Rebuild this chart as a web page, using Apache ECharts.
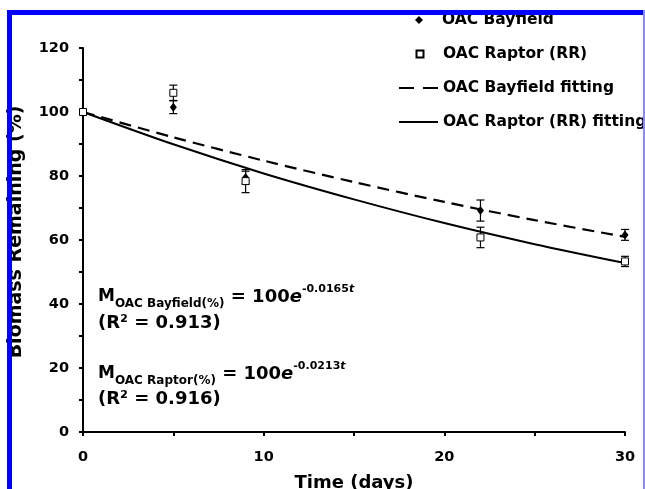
<!DOCTYPE html>
<html>
<head>
<meta charset="utf-8">
<script src="https://cdn.jsdelivr.net/npm/echarts@6/dist/echarts.min.js"></script>
<style>
  html, body { margin: 0; padding: 0; background: #fff; }
  #main { width: 645px; height: 489px; }
</style>
</head>
<body>
<div id="main"></div>
<script>
// measured points (days, % remaining) and error half-widths
const days = [0, 5, 9, 22, 30];
const bayfield = [100, 101.5, 79.5, 69.2, 61.6];
const bayfieldErr = [0, 2, 2, 3.3, 1.7];
const raptor = [100, 106, 78.4, 60.8, 53.3];
const raptorErr = [0, 2.4, 3.6, 3.2, 1.6];

// fitted curves
const fitDays = [0, 5, 10, 15, 20, 25, 30];
const bayfieldFit = [100, 92.1, 84.8, 78.1, 71.9, 66.2, 61.0];
const raptorFit = [100, 89.9, 80.8, 72.7, 65.3, 58.7, 52.8];

const FONT = 'DejaVu Sans';
const bold = { color: '#000', fontFamily: FONT, fontWeight: 'bold' };

function pairs(xs, ys) {
  return xs.map((x, i) => [x, ys[i]]);
}
function errRows(vals, errs) {
  return days.map((d, i) => [d, vals[i] - errs[i], vals[i] + errs[i]]).filter((r, i) => errs[i] > 0);
}
function errorBar(params, api) {
  const lo = api.coord([api.value(0), api.value(1)]);
  const hi = api.coord([api.value(0), api.value(2)]);
  const w = 4;
  const st = { stroke: '#000', lineWidth: 1.2 };
  return {
    type: 'group',
    children: [
      { type: 'line', shape: { x1: hi[0], y1: hi[1], x2: lo[0], y2: lo[1] }, style: st },
      { type: 'line', shape: { x1: hi[0] - w, y1: hi[1], x2: hi[0] + w, y2: hi[1] }, style: st },
      { type: 'line', shape: { x1: lo[0] - w, y1: lo[1], x2: lo[0] + w, y2: lo[1] }, style: st }
    ]
  };
}

const legendText = Object.assign({ fontSize: 15.5 }, bold);
// marker legends: small icon, text pushed right to line up with the line legends
function markerLegend(name, top, size) {
  return {
    data: [name], left: 419 - size / 2, top: top, padding: 0,
    itemWidth: size, itemHeight: size, selectedMode: false,
    textStyle: Object.assign({ padding: [0, 0, 0, 18 - size / 2] }, legendText)
  };
}
function lineLegend(name, top, lineStyle) {
  return {
    data: [name], left: 398, top: top, padding: 0,
    itemWidth: 39, itemHeight: 8, selectedMode: false,
    itemStyle: { opacity: 0 },
    lineStyle: lineStyle,
    textStyle: legendText
  };
}

const eqRich = {
  m: Object.assign({ fontSize: 17, lineHeight: 26, verticalAlign: 'middle' }, bold),
  sub: Object.assign({ fontSize: 12, verticalAlign: 'bottom' }, bold),
  big: Object.assign({ fontSize: 18, verticalAlign: 'middle' }, bold),
  e: Object.assign({ fontSize: 18, fontStyle: 'italic', verticalAlign: 'middle' }, bold),
  sup: Object.assign({ fontSize: 11, verticalAlign: 'top' }, bold),
  supi: Object.assign({ fontSize: 11, fontStyle: 'italic', verticalAlign: 'top' }, bold)
};
function eqText(y, label, k) {
  return {
    type: 'text', left: 98, top: y, z: 10,
    style: {
      text: '{m|M}{sub|' + label + '}{big| = 100}{e|e}{sup|' + k + '}{supi|t}',
      rich: eqRich
    }
  };
}
function r2Text(y, v) {
  return {
    type: 'text', left: 98, top: y, z: 10,
    style: Object.assign({ text: '(R\u00b2 = ' + v + ')', fontSize: 18 }, bold, { fill: '#000' })
  };
}

const chart = echarts.init(document.getElementById('main'));
chart.setOption({
  animation: false,
  backgroundColor: '#fff',
  grid: { left: 83, right: 20, top: 48, bottom: 57, containLabel: false, outerBoundsMode: 'none' },
  legend: [
    markerLegend('OAC Bayfield', 12, 8),
    markerLegend('OAC Raptor (RR)', 46, 7),
    lineLegend('OAC Bayfield fitting', 80, { type: [15, 9], width: 2 }),
    lineLegend('OAC Raptor (RR) fitting', 114, { width: 2 })
  ],
  xAxis: {
    type: 'value', min: 0, max: 30, interval: 10,
    name: 'Time (days)', nameLocation: 'middle', nameGap: 42,
    nameTextStyle: Object.assign({ fontSize: 18 }, bold),
    axisLine: { lineStyle: { color: '#000', width: 2 } },
    axisTick: { length: 4, lineStyle: { color: '#000', width: 2 } },
    minorTick: { show: true, splitNumber: 2, length: 4, lineStyle: { color: '#000', width: 2 } },
    splitLine: { show: false },
    axisLabel: Object.assign({ fontSize: 14.5, margin: 18 }, bold)
  },
  yAxis: {
    type: 'value', min: 0, max: 120, interval: 20,
    name: 'Biomass Remaining (%)', nameLocation: 'middle', nameGap: 57,
    nameTextStyle: Object.assign({ fontSize: 19, padding: [0, 0, 0, 16] }, bold),
    axisLine: { show: true, lineStyle: { color: '#000', width: 2 } },
    axisTick: { show: true, length: 4, lineStyle: { color: '#000', width: 2 } },
    minorTick: { show: true, splitNumber: 2, length: 4, lineStyle: { color: '#000', width: 2 } },
    splitLine: { show: false },
    axisLabel: Object.assign({ fontSize: 14.5, margin: 14 }, bold)
  },
  series: [
    {
      name: 'OAC Bayfield fitting', type: 'line', data: pairs(fitDays, bayfieldFit),
      symbol: 'none', smooth: 0.3, z: 2,
      lineStyle: { color: '#000', width: 2.2, type: [12, 7] }
    },
    {
      name: 'OAC Raptor (RR) fitting', type: 'line', data: pairs(fitDays, raptorFit),
      symbol: 'none', smooth: 0.3, z: 2,
      lineStyle: { color: '#000', width: 2 }
    },
    { type: 'custom', data: errRows(bayfield, bayfieldErr), renderItem: errorBar, z: 3 },
    { type: 'custom', data: errRows(raptor, raptorErr), renderItem: errorBar, z: 3 },
    {
      name: 'OAC Bayfield', type: 'scatter', data: pairs(days, bayfield),
      symbol: 'diamond', symbolSize: [7, 9], z: 4,
      itemStyle: { color: '#000', opacity: 1 }
    },
    {
      name: 'OAC Raptor (RR)', type: 'scatter', data: pairs(days, raptor),
      symbol: 'rect', symbolSize: 7, z: 5,
      itemStyle: { color: '#fff', borderColor: '#000', borderWidth: 1, opacity: 1 }
    }
  ],
  graphic: [
    eqText(284, 'OAC Bayfield(%)', '-0.0165'),
    r2Text(314, '0.913'),
    eqText(361, 'OAC Raptor(%)', '-0.0213'),
    r2Text(390, '0.916'),
    // blue frame drawn on top
    { type: 'rect', z: 100, shape: { x: 7, y: 10, width: 638, height: 5 }, style: { fill: '#0000ff' } },
    { type: 'rect', z: 100, shape: { x: 7, y: 10, width: 5, height: 479 }, style: { fill: '#0000ff' } },
    { type: 'rect', z: 100, shape: { x: 643, y: 10, width: 2, height: 479 }, style: { fill: '#8888ff' } }
  ]
});
</script>
</body>
</html>
